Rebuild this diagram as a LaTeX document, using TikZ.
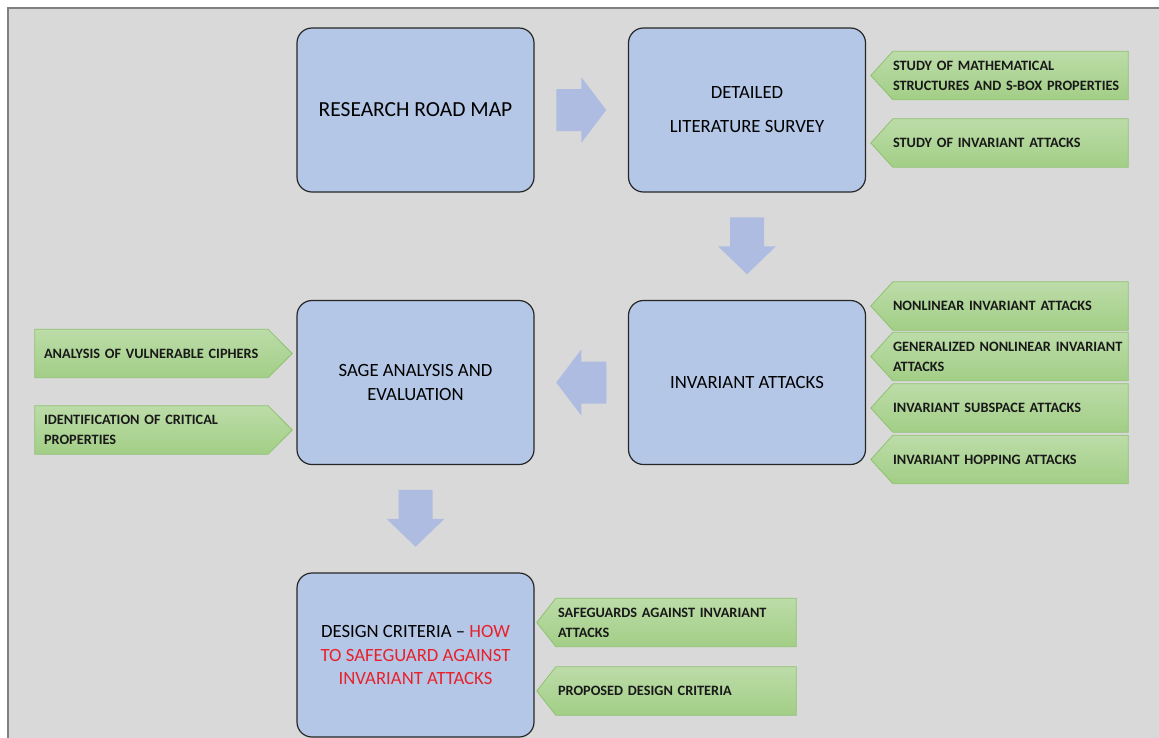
\documentclass[tikz,border=0pt]{standalone}
\usepackage{fontspec}
\setmainfont{Carlito}
\usetikzlibrary{calc,backgrounds}
\definecolor{stageblue}{HTML}{B4C7E7}
\definecolor{arrowblue}{HTML}{AEBCE1}
\definecolor{taglight}{HTML}{BCDCA8}
\definecolor{tagdark}{HTML}{A2CE86}
\definecolor{tagedge}{HTML}{8EC270}
\definecolor{framegray}{HTML}{D9D9D9}
\definecolor{frameedge}{HTML}{808080}
\definecolor{safered}{HTML}{E8212B}

\begin{document}
\begin{tikzpicture}[
            x=1pt,y=-1pt,
            stage/.style={draw=black!85,line width=1.2pt,fill=stageblue,rounded corners=15pt,
                minimum width=237pt,minimum height=164pt,align=center,
                font=\fontsize{18.7}{23.5}\selectfont},
            tag/.style={minimum width=235pt,minimum height=48pt,inner xsep=0pt,inner ysep=2pt,
                text width=235pt,align=left,text=black!90,
                font=\bfseries\fontsize{14.3}{20}\selectfont},
            tagfill/.style={draw=tagedge,line width=0.8pt,top color=taglight,bottom color=tagdark},
            blockarrow/.style={fill=arrowblue}
        ]
            \useasboundingbox (0,0) rectangle (1159,737);
            % main stages
            \node [stage,font=\fontsize{21.5}{26}\selectfont] (roadmap) at (415.5,110) {RESEARCH ROAD MAP};
            \node [stage] (survey) at (747,110) {DETAILED\\[10.5pt]LITERATURE SURVEY};
            \node [stage] (invariant) at (747,382.5) {INVARIANT ATTACKS};
            \node [stage] (sage) at (415.5,382.5) {SAGE ANALYSIS AND\\EVALUATION};
            \node [stage] (design) at (415.5,655) {DESIGN CRITERIA – \textcolor{safered}{HOW}\\
                \textcolor{safered}{TO SAFEGUARD AGAINST}\\\textcolor{safered}{INVARIANT ATTACKS}};
            % tags on the right
            \node [tag] (mathtag) at (1010.5,75.5) {STUDY OF MATHEMATICAL\\STRUCTURES AND S-BOX PROPERTIES};
            \node [tag] (studytag) at (1010.5,143) {STUDY OF INVARIANT ATTACKS};
            \node [tag] (nonlintag) at (1010.5,306) {NONLINEAR INVARIANT ATTACKS};
            \node [tag] (gentag) at (1010.5,356.5) {GENERALIZED NONLINEAR INVARIANT\\ATTACKS};
            \node [tag] (subtag) at (1010.5,408) {INVARIANT SUBSPACE ATTACKS};
            \node [tag] (hoptag) at (1010.5,459.5) {INVARIANT HOPPING ATTACKS};
            % tags on the left
            \node [tag,minimum width=233pt,text width=215pt,inner xsep=9pt] (ciphertag) at (151.5,353.5) {ANALYSIS OF VULNERABLE CIPHERS};
            \node [tag,minimum width=233pt,text width=215pt,inner xsep=9pt] (crittag) at (151.5,430) {IDENTIFICATION OF CRITICAL\\PROPERTIES};
            % tags at the bottom
            \node [tag,minimum width=240pt,text width=236pt,inner xsep=2pt] (guardtag) at (676,622.5) {SAFEGUARDS AGAINST INVARIANT\\ATTACKS};
            \node [tag,minimum width=240pt,text width=236pt,inner xsep=2pt] (criteriatag) at (676,691) {PROPOSED DESIGN CRITERIA};
            % block arrows
            \coordinate (a1) at ($(roadmap.east)!.5!(survey.west)$);
            \coordinate (a2) at ($(survey.south)!.5!(invariant.north)$);
            \coordinate (a3) at ($(sage.east)!.5!(invariant.west)$);
            \coordinate (a4) at ($(sage.south)!.5!(design.north)$);
            \foreach \c/\r in {a1/0,a3/180} {
                \fill [blockarrow,shift={(\c)},rotate=\r] (-25,-21) -- (0,-21) -- (0,-33) -- (25,0) -- (0,33) -- (0,21) -- (-25,21) -- cycle;
            }
            \foreach \c in {a2,a4} {
                \fill [blockarrow,shift={(\c)},rotate=-90] (-29,-17) -- (0,-17) -- (0,-29) -- (28,0) -- (0,29) -- (0,17) -- (-29,17) -- cycle;
            }
            \begin{scope}[on background layer]
                \fill [framegray] (8,8) rectangle (1170,750);
                \draw [frameedge,line width=1.5pt] (8,750) -- (8,8) -- (1170,8);
                \foreach \n/\d in {mathtag/22,studytag/22,nonlintag/22,gentag/22,subtag/22,hoptag/22,guardtag/19,criteriatag/19} {
                    \draw [tagfill] (\n.north west) -- (\n.north east) -- (\n.south east) -- (\n.south west) -- ($(\n.west)+(-\d,0)$) -- cycle;
                }
                \foreach \n in {ciphertag,crittag} {
                    \draw [tagfill] (\n.north west) -- (\n.north east) -- ($(\n.east)+(24,0)$) -- (\n.south east) -- (\n.south west) -- cycle;
                }
            \end{scope}
        \end{tikzpicture}
\end{document}
